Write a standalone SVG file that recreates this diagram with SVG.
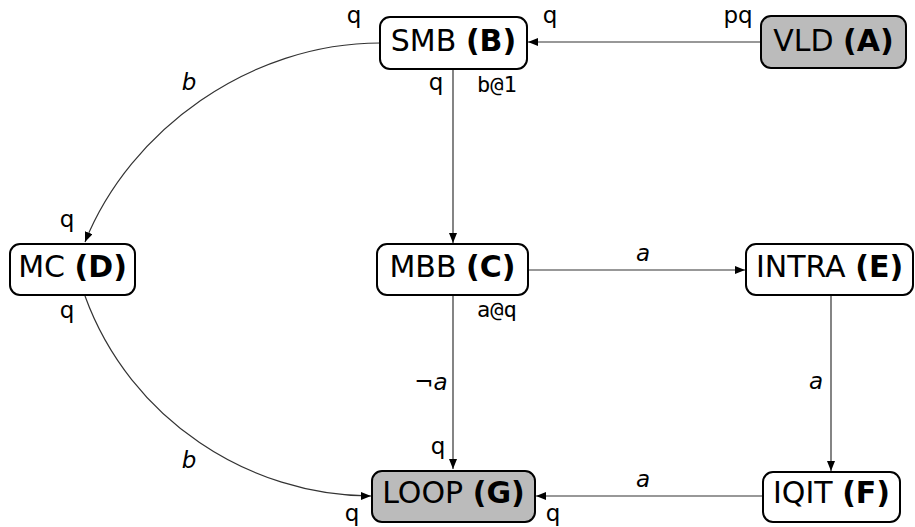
<svg xmlns="http://www.w3.org/2000/svg" width="915" height="527" viewBox="0 0 915 527">
  <style>
    .box { fill: #ffffff; stroke: #000000; stroke-width: 2; }
    .box.term { fill: #bbbbbb; }
    .name { font-family: "DejaVu Sans", sans-serif; font-size: 30px; text-anchor: middle; fill: #000; }
    .name tspan.id { font-weight: bold; }
    .edge { fill: none; stroke: #333333; stroke-width: 1.2; marker-end: url(#arrow); }
    .port { font-family: "DejaVu Sans", sans-serif; font-size: 23px; text-anchor: middle; fill: #000; }
    .mono { font-family: "DejaVu Sans Mono", monospace; font-size: 22px; fill: #000; }
    .cond { font-family: "DejaVu Sans", sans-serif; font-size: 23px; font-style: italic; text-anchor: middle; fill: #000; }
  </style>
  <defs>
    <marker id="arrow" viewBox="0 0 10 8" refX="10" refY="4" markerWidth="10" markerHeight="8" markerUnits="userSpaceOnUse" orient="auto">
      <path d="M0,0 L10,4 L0,8 Z" fill="#000"/>
    </marker>
  </defs>

  <!-- connectors -->
  <g id="edges">
    <line class="edge" x1="761" y1="42" x2="528" y2="42"/>
    <line class="edge" x1="453" y1="69" x2="453" y2="243"/>
    <path class="edge" d="M380,43 C250,43 130,130 85,242"/>
    <path class="edge" d="M85,296 C130,420 250,496 371,496"/>
    <line class="edge" x1="528" y1="270" x2="745" y2="270"/>
    <line class="edge" x1="453" y1="295" x2="453" y2="469"/>
    <line class="edge" x1="831" y1="295" x2="831" y2="471"/>
    <line class="edge" x1="763" y1="496" x2="536" y2="496"/>

    <!-- port and condition labels -->
    <text class="port" x="738" y="23">pq</text>
    <text class="port" x="550" y="23">q</text>
    <text class="port" x="354" y="23">q</text>
    <text class="port" x="436" y="90">q</text>
    <text class="mono" x="477" y="92">b@1</text>
    <text class="cond" x="189" y="90">b</text>
    <text class="port" x="67" y="227">q</text>
    <text class="port" x="67" y="318">q</text>
    <text class="cond" x="189" y="468">b</text>
    <text class="mono" x="477" y="317">a@q</text>
    <text class="cond" x="643" y="261">a</text>
    <text class="cond" x="431" y="390">¬a</text>
    <text class="port" x="438" y="454">q</text>
    <text class="cond" x="816" y="389">a</text>
    <text class="cond" x="643" y="487">a</text>
    <text class="port" x="352" y="521">q</text>
    <text class="port" x="553" y="521">q</text>
  </g>

  <g id="node-A">
    <rect class="box term" x="761" y="16" width="145" height="52" rx="10"/>
    <text class="name" x="833.5" y="50.5">VLD <tspan class="id">(A)</tspan></text>
  </g>
  <g id="node-B">
    <rect class="box" x="380" y="17" width="147" height="52" rx="10"/>
    <text class="name" x="453.5" y="50.5">SMB <tspan class="id">(B)</tspan></text>
  </g>
  <g id="node-C">
    <rect class="box" x="377" y="244" width="151" height="51" rx="10"/>
    <text class="name" x="452.5" y="277">MBB <tspan class="id">(C)</tspan></text>
  </g>
  <g id="node-D">
    <rect class="box" x="10" y="244" width="125" height="51" rx="10"/>
    <text class="name" x="72.5" y="277">MC <tspan class="id">(D)</tspan></text>
  </g>
  <g id="node-E">
    <rect class="box" x="746" y="244" width="167" height="51" rx="10"/>
    <text class="name" x="829.5" y="277">INTRA <tspan class="id">(E)</tspan></text>
  </g>
  <g id="node-F">
    <rect class="box" x="763" y="472" width="137" height="50" rx="10"/>
    <text class="name" x="831.5" y="503">IQIT <tspan class="id">(F)</tspan></text>
  </g>
  <g id="node-G">
    <rect class="box term" x="372" y="471" width="163" height="51" rx="10"/>
    <text class="name" x="453.5" y="503">LOOP <tspan class="id">(G)</tspan></text>
  </g>
</svg>
